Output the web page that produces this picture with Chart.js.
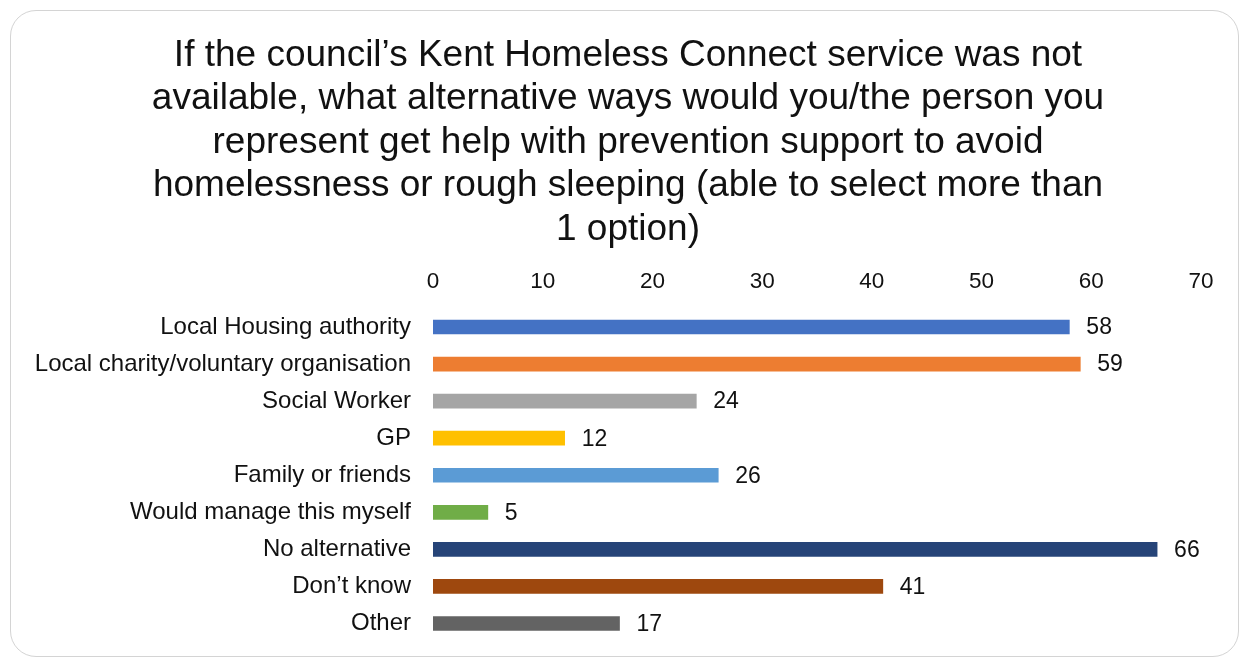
<!DOCTYPE html>
<html>
<head>
<meta charset="utf-8">
<script src="https://cdn.jsdelivr.net/npm/chart.js@4.4.1/dist/chart.umd.min.js"></script>
<style>
  html, body { margin: 0; padding: 0; background: #fff; }
  #wrap { position: relative; width: 1239px; height: 661px; overflow: hidden; }
  #frame {
    position: absolute; left: 10px; top: 10px; width: 1227px; height: 645px;
    border: 1.5px solid #d4d4d4; border-radius: 26px;
  }
  #chart { position: absolute; left: 0; top: 0; }
</style>
</head>
<body>
<div id="wrap">
  <div id="frame"></div>
  <canvas id="chart" width="1239" height="661"></canvas>
</div>
<script>
const titleLines = [
  "If the council\u2019s Kent Homeless Connect service was not",
  "available, what alternative ways would you/the person you",
  "represent get help with prevention support to avoid",
  "homelessness or rough sleeping (able to select more than",
  "1 option)"
];

const categories = [
  "Local Housing authority",
  "Local charity/voluntary organisation",
  "Social Worker",
  "GP",
  "Family or friends",
  "Would manage this myself",
  "No alternative",
  "Don\u2019t know",
  "Other"
];

const counts = [58, 59, 24, 12, 26, 5, 66, 41, 17];

const barColors = [
  "#4472C4", "#ED7D31", "#A5A5A5", "#FFC000", "#5B9BD5",
  "#70AD47", "#264478", "#9E480E", "#636363"
];

const xTicks = [0, 10, 20, 30, 40, 50, 60, 70];

const FONT = "'Liberation Sans', Arial, sans-serif";
const PAD_LEFT = 17;

// writes each count just past the end of its bar
const valueLabels = {
  id: "valueLabels",
  afterDatasetsDraw(chart) {
    const ctx = chart.ctx;
    const meta = chart.getDatasetMeta(0);
    ctx.save();
    ctx.font = "23px " + FONT;
    ctx.fillStyle = "#111";
    ctx.textAlign = "left";
    ctx.textBaseline = "middle";
    meta.data.forEach((bar, i) => {
      ctx.fillText(String(counts[i]), bar.x + 17, bar.y + 1);
    });
    ctx.restore();
  }
};

// the title is centred a little right of the canvas middle
const shiftTitle = {
  id: "shiftTitle",
  afterLayout(chart) {
    if (chart.titleBlock) chart.titleBlock.left = 55;
  }
};

new Chart(document.getElementById("chart"), {
  type: "bar",
  data: {
    labels: categories,
    datasets: [{
      data: counts,
      backgroundColor: barColors,
      barThickness: 14
    }]
  },
  options: {
    indexAxis: "y",
    responsive: false,
    animation: false,
    layout: { padding: { left: PAD_LEFT, right: 38, top: 10, bottom: 19 } },
    plugins: {
      legend: { display: false },
      tooltip: { enabled: false },
      title: {
        display: true,
        text: titleLines,
        color: "#111",
        font: { family: FONT, size: 37, weight: "normal", lineHeight: 1.173 },
        padding: { top: 24, bottom: 0 }
      }
    },
    scales: {
      x: {
        position: "top",
        min: 0,
        max: 70,
        afterBuildTicks(scale) {
          scale.ticks = xTicks.map(v => ({ value: v }));
        },
        afterFit(scale) {
          scale.height = 57.5;
          scale.paddingLeft = 0;
          scale.paddingRight = 0;
        },
        grid: { display: false, drawTicks: false },
        border: { display: false },
        ticks: {
          color: "#111",
          font: { family: FONT, size: 22.5 },
          padding: 13
        }
      },
      y: {
        afterFit(scale) {
          // category labels end 22px left of the zero line at x = 433
          scale.width = 433 - PAD_LEFT;
          scale.paddingTop = 0;
          scale.paddingBottom = 0;
        },
        grid: { display: false, drawTicks: false },
        border: { display: false },
        ticks: {
          color: "#111",
          font: { family: FONT, size: 24 },
          padding: 22,
          autoSkip: false
        }
      }
    }
  },
  plugins: [valueLabels, shiftTitle]
});
</script>
</body>
</html>
